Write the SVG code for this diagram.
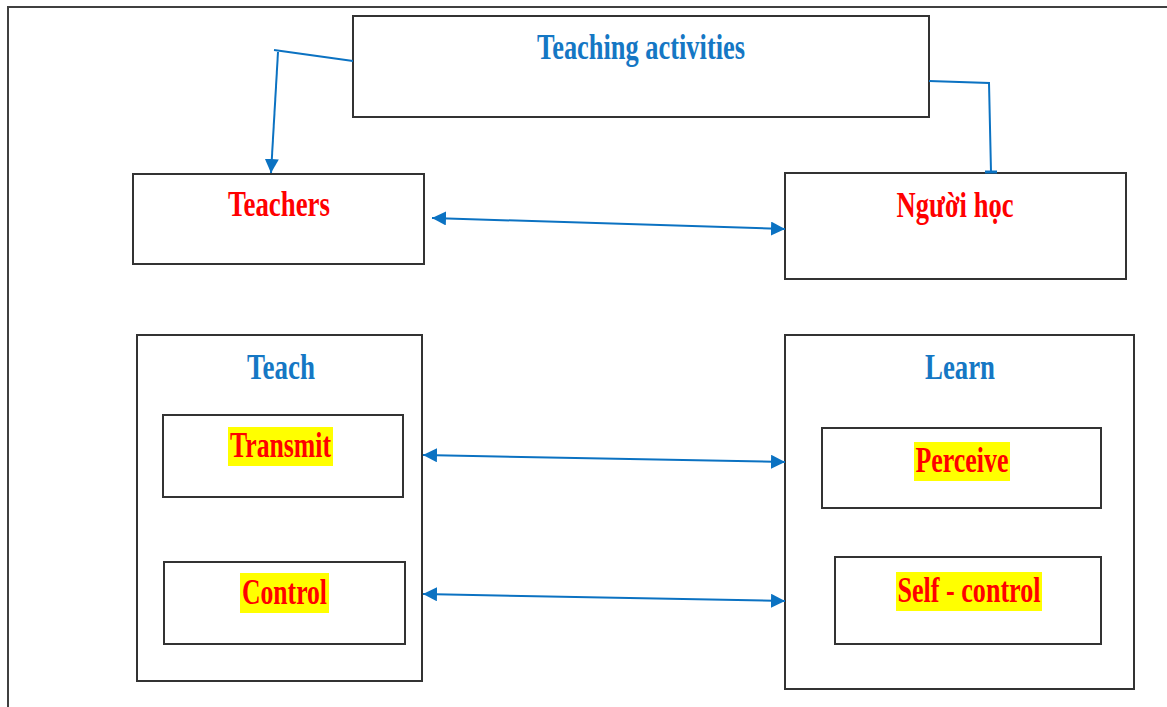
<svg xmlns="http://www.w3.org/2000/svg" width="1167" height="707" viewBox="0 0 1167 707">
<style>
.box{fill:#fff;stroke:#333;stroke-width:2}
.t{font-family:"Liberation Serif","Times New Roman",serif;font-weight:bold;font-size:35px;text-anchor:middle}
.blue{fill:#1577C4}
.red{fill:#FF0000}
.hl{fill:#FFFF00}
.conn{stroke:#0B72C2;stroke-width:2;fill:none}
</style>
<defs>
<marker id="ah" viewBox="0 0 10 10" refX="10" refY="5" markerWidth="14" markerHeight="14" markerUnits="userSpaceOnUse" orient="auto-start-reverse">
<path d="M0,0 L10,5 L0,10 z" fill="#0B72C2"/>
</marker>
</defs>
<rect width="1167" height="707" fill="#fff"/>
<path d="M8,707 V7 H1167" fill="none" stroke="#404040" stroke-width="2"/>

<g id="teaching-activities">
<rect class="box" x="353" y="16" width="576" height="101"/>
<text class="t blue" x="641" y="59" textLength="208" lengthAdjust="spacingAndGlyphs">Teaching activities</text>
</g>

<g id="teachers">
<rect class="box" x="133" y="174" width="291" height="90"/>
<text class="t red" x="279" y="216" textLength="102" lengthAdjust="spacingAndGlyphs">Teachers</text>
</g>

<g id="nguoi-hoc">
<rect class="box" x="785" y="173" width="341" height="106"/>
<text class="t red" x="955" y="217" textLength="117" lengthAdjust="spacingAndGlyphs">Người học</text>
</g>

<g id="teach">
<rect class="box" x="137" y="335" width="285" height="346"/>
<text class="t blue" x="281" y="379" textLength="68" lengthAdjust="spacingAndGlyphs">Teach</text>
</g>

<g id="transmit">
<rect class="box" x="163" y="415" width="240" height="82"/>
<rect class="hl" x="228" y="427" width="105" height="39"/>
<text class="t red" x="280.5" y="457" textLength="101" lengthAdjust="spacingAndGlyphs">Transmit</text>
</g>

<g id="control">
<rect class="box" x="164" y="562" width="241" height="82"/>
<rect class="hl" x="240" y="573" width="89" height="40"/>
<text class="t red" x="284.5" y="604" textLength="85" lengthAdjust="spacingAndGlyphs">Control</text>
</g>

<g id="learn">
<rect class="box" x="785" y="335" width="349" height="354"/>
<text class="t blue" x="960" y="379" textLength="70" lengthAdjust="spacingAndGlyphs">Learn</text>
</g>

<g id="perceive">
<rect class="box" x="822" y="428" width="279" height="80"/>
<rect class="hl" x="914" y="442" width="96" height="39"/>
<text class="t red" x="962" y="472" textLength="93" lengthAdjust="spacingAndGlyphs">Perceive</text>
</g>

<g id="self-control">
<rect class="box" x="835" y="557" width="266" height="87"/>
<rect class="hl" x="896" y="572" width="146" height="39"/>
<text class="t red" x="969" y="602" textLength="143" lengthAdjust="spacingAndGlyphs">Self - control</text>
</g>

<g id="connectors">
<polyline class="conn" points="353,61 274,50"/>
<line class="conn" x1="278" y1="52" x2="271" y2="173" marker-end="url(#ah)"/>
<polyline class="conn" points="929,81 989,83 991,172"/>
<line x1="985" y1="172" x2="997" y2="172" stroke="#0B72C2" stroke-width="3"/>
<line class="conn" x1="432" y1="218" x2="785" y2="229" marker-start="url(#ah)" marker-end="url(#ah)"/>
<line class="conn" x1="423" y1="455" x2="785" y2="462" marker-start="url(#ah)" marker-end="url(#ah)"/>
<line class="conn" x1="423" y1="594" x2="785" y2="601" marker-start="url(#ah)" marker-end="url(#ah)"/>
</g>
</svg>
